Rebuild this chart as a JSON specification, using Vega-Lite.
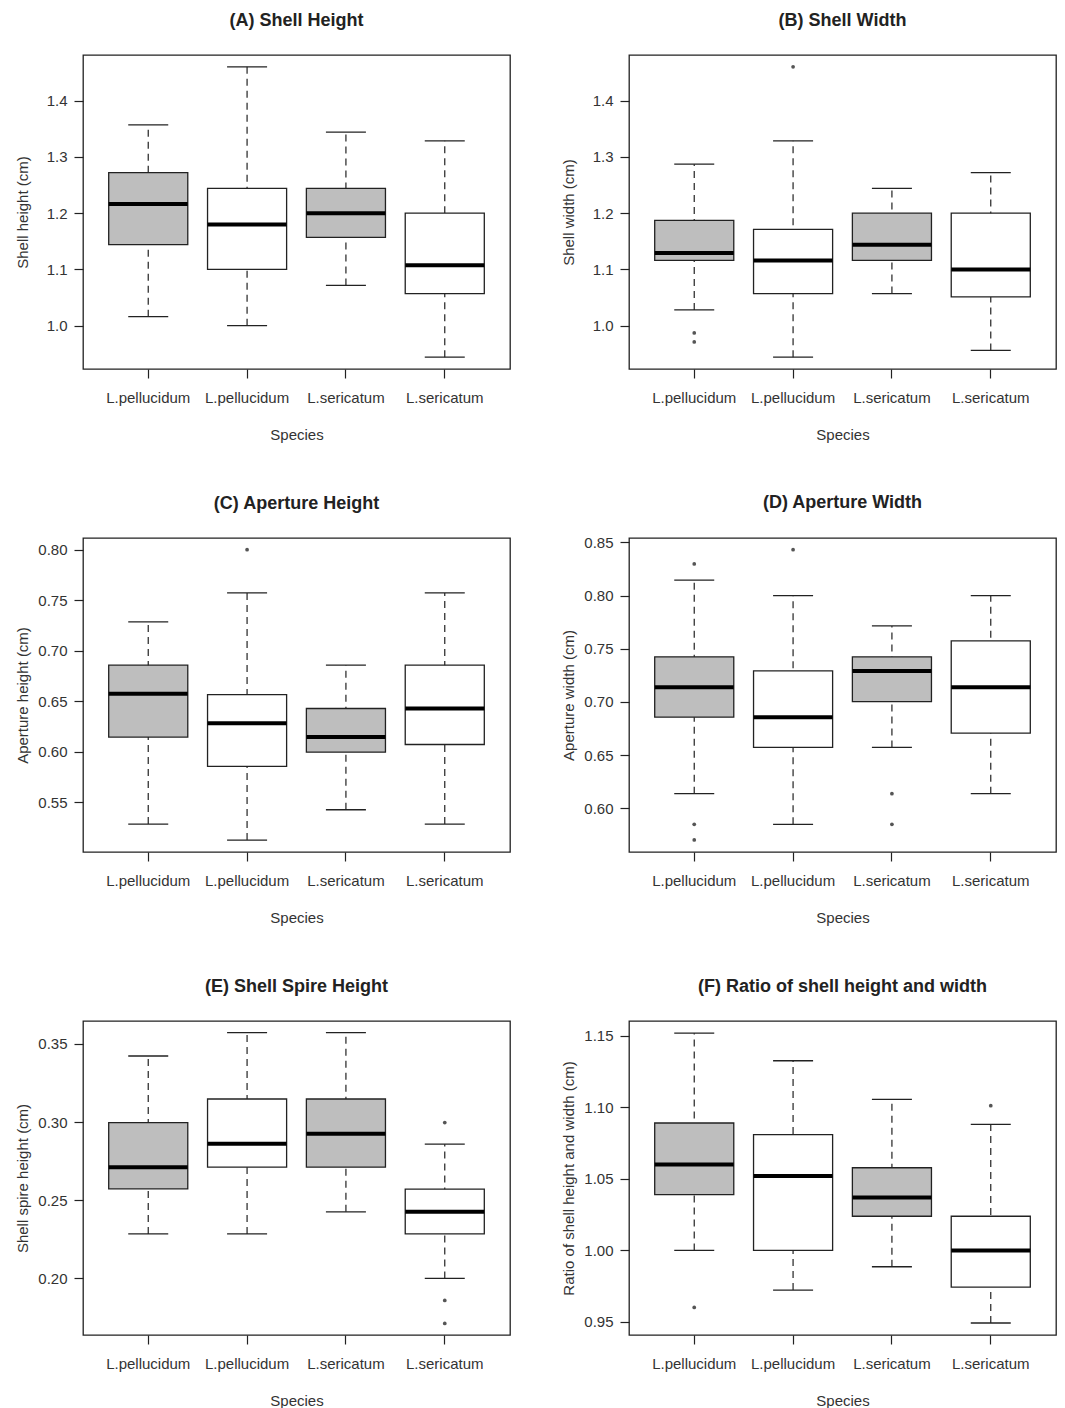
{
"$schema": "https://vega.github.io/schema/vega-lite/v6.json",
"padding": {"left": 14, "top": 11, "right": 5, "bottom": 5},
"background": "white",
"bounds": "flush",
"columns": 2,
"spacing": {"row": 169, "column": 119},
"datasets": {
"boxes": [
{"p":"A","g":1,"lo":1.016,"q1":1.144,"med":1.216,"q3":1.272,"hi":1.357},
{"p":"A","g":2,"lo":1.000,"q1":1.100,"med":1.180,"q3":1.244,"hi":1.460},
{"p":"A","g":3,"lo":1.0715,"q1":1.157,"med":1.200,"q3":1.244,"hi":1.344},
{"p":"A","g":4,"lo":0.944,"q1":1.057,"med":1.1075,"q3":1.200,"hi":1.3285},
{"p":"B","g":1,"lo":1.028,"q1":1.116,"med":1.129,"q3":1.187,"hi":1.287},
{"p":"B","g":2,"lo":0.944,"q1":1.057,"med":1.116,"q3":1.171,"hi":1.3285},
{"p":"B","g":3,"lo":1.057,"q1":1.116,"med":1.144,"q3":1.200,"hi":1.244},
{"p":"B","g":4,"lo":0.956,"q1":1.051,"med":1.100,"q3":1.200,"hi":1.272},
{"p":"C","g":1,"lo":0.5286,"q1":0.6146,"med":0.6574,"q3":0.6857,"hi":0.7285},
{"p":"C","g":2,"lo":0.5128,"q1":0.5856,"med":0.6284,"q3":0.6567,"hi":0.7572},
{"p":"C","g":3,"lo":0.5428,"q1":0.5997,"med":0.6146,"q3":0.6429,"hi":0.6857},
{"p":"C","g":4,"lo":0.5286,"q1":0.6073,"med":0.6429,"q3":0.6857,"hi":0.7572},
{"p":"D","g":1,"lo":0.6138,"q1":0.6857,"med":0.7139,"q3":0.7424,"hi":0.8146},
{"p":"D","g":2,"lo":0.585,"q1":0.6573,"med":0.6857,"q3":0.7292,"hi":0.80},
{"p":"D","g":3,"lo":0.6573,"q1":0.7004,"med":0.7292,"q3":0.7424,"hi":0.7715},
{"p":"D","g":4,"lo":0.6138,"q1":0.6707,"med":0.7139,"q3":0.7574,"hi":0.80},
{"p":"E","g":1,"lo":0.2285,"q1":0.2573,"med":0.2712,"q3":0.2997,"hi":0.3423},
{"p":"E","g":2,"lo":0.2285,"q1":0.2712,"med":0.2861,"q3":0.3148,"hi":0.3572},
{"p":"E","g":3,"lo":0.2426,"q1":0.2712,"med":0.2925,"q3":0.3148,"hi":0.3572},
{"p":"E","g":4,"lo":0.20,"q1":0.2285,"med":0.2426,"q3":0.2571,"hi":0.2859},
{"p":"F","g":1,"lo":1.0,"q1":1.039,"med":1.0601,"q3":1.0891,"hi":1.1519},
{"p":"F","g":2,"lo":0.9723,"q1":1.0,"med":1.052,"q3":1.081,"hi":1.1326},
{"p":"F","g":3,"lo":0.9886,"q1":1.0239,"med":1.0371,"q3":1.0578,"hi":1.1056},
{"p":"F","g":4,"lo":0.9493,"q1":0.9744,"med":1.0,"q3":1.0239,"hi":1.0882}
],
"outs": [
{"p":"B","g":1,"v":0.987},{"p":"B","g":1,"v":0.971},{"p":"B","g":2,"v":1.460},
{"p":"C","g":2,"v":0.80},
{"p":"D","g":1,"v":0.8297},{"p":"D","g":1,"v":0.585},{"p":"D","g":1,"v":0.5703},{"p":"D","g":2,"v":0.8431},{"p":"D","g":3,"v":0.6138},{"p":"D","g":3,"v":0.585},
{"p":"E","g":4,"v":0.2997},{"p":"E","g":4,"v":0.1859},{"p":"E","g":4,"v":0.1712},
{"p":"F","g":1,"v":0.9602},{"p":"F","g":4,"v":1.1012}
]
},
"concat": [
{
"title": {"text": "(A) Shell Height"},
"width": 427, "height": 314,
"encoding": {"x": {"field": "g", "type": "nominal", "scale": {"type": "band", "domain": [1,2,3,4], "paddingInner": 0.2, "paddingOuter": 0.26}, "axis": {"title": "Species", "labelExpr": "datum.value <= 2 ? 'L.pellucidum' : 'L.sericatum'"}}},
"layer": [
{"data": {"name": "boxes"}, "transform": [{"filter": "datum.p == 'A'"}], "mark": {"type": "rule", "strokeDash": [7,5], "strokeWidth": 1.2, "color": "#222"}, "encoding": {"y": {"field": "lo", "type": "quantitative", "title": "Shell height (cm)", "scale": {"domain": [0.923,1.481], "nice": false, "zero": false}, "axis": {"values": [1.0,1.1,1.2,1.3,1.4], "format": ".1f"}}, "y2": {"field": "hi"}}},
{"data": {"name": "boxes"}, "transform": [{"filter": "datum.p == 'A'"}], "mark": {"type": "bar", "stroke": "#222", "strokeWidth": 1.3}, "encoding": {"y": {"field": "q1", "type": "quantitative", "title": "Shell height (cm)", "scale": {"domain": [0.923,1.481], "nice": false, "zero": false}}, "y2": {"field": "q3"}, "fill": {"field": "g", "type": "nominal", "scale": {"domain": [1,2,3,4], "range": ["#bebebe","#ffffff","#bebebe","#ffffff"]}, "legend": null}}},
{"data": {"name": "boxes"}, "transform": [{"filter": "datum.p == 'A'"}], "mark": {"type": "tick", "color": "#000", "size": 79, "thickness": 4, "opacity": 1}, "encoding": {"y": {"field": "med", "type": "quantitative", "title": "Shell height (cm)", "scale": {"domain": [0.923,1.481], "nice": false, "zero": false}}}},
{"data": {"name": "boxes"}, "transform": [{"filter": "datum.p == 'A'"}], "mark": {"type": "tick", "color": "#222", "size": 40, "thickness": 1.3, "opacity": 1}, "encoding": {"y": {"field": "lo", "type": "quantitative", "title": "Shell height (cm)", "scale": {"domain": [0.923,1.481], "nice": false, "zero": false}}}},
{"data": {"name": "boxes"}, "transform": [{"filter": "datum.p == 'A'"}], "mark": {"type": "tick", "color": "#222", "size": 40, "thickness": 1.3, "opacity": 1}, "encoding": {"y": {"field": "hi", "type": "quantitative", "title": "Shell height (cm)", "scale": {"domain": [0.923,1.481], "nice": false, "zero": false}}}},
{"data": {"name": "outs"}, "transform": [{"filter": "datum.p == 'A'"}], "mark": {"type": "point", "filled": true, "size": 14, "color": "#555", "opacity": 1}, "encoding": {"y": {"field": "v", "type": "quantitative", "title": "Shell height (cm)", "scale": {"domain": [0.923,1.481], "nice": false, "zero": false}}}}
]
},
{
"title": {"text": "(B) Shell Width"},
"width": 427, "height": 314,
"encoding": {"x": {"field": "g", "type": "nominal", "scale": {"type": "band", "domain": [1,2,3,4], "paddingInner": 0.2, "paddingOuter": 0.26}, "axis": {"title": "Species", "labelExpr": "datum.value <= 2 ? 'L.pellucidum' : 'L.sericatum'"}}},
"layer": [
{"data": {"name": "boxes"}, "transform": [{"filter": "datum.p == 'B'"}], "mark": {"type": "rule", "strokeDash": [7,5], "strokeWidth": 1.2, "color": "#222"}, "encoding": {"y": {"field": "lo", "type": "quantitative", "title": "Shell width (cm)", "scale": {"domain": [0.923,1.481], "nice": false, "zero": false}, "axis": {"values": [1.0,1.1,1.2,1.3,1.4], "format": ".1f"}}, "y2": {"field": "hi"}}},
{"data": {"name": "boxes"}, "transform": [{"filter": "datum.p == 'B'"}], "mark": {"type": "bar", "stroke": "#222", "strokeWidth": 1.3}, "encoding": {"y": {"field": "q1", "type": "quantitative", "title": "Shell width (cm)", "scale": {"domain": [0.923,1.481], "nice": false, "zero": false}}, "y2": {"field": "q3"}, "fill": {"field": "g", "type": "nominal", "scale": {"domain": [1,2,3,4], "range": ["#bebebe","#ffffff","#bebebe","#ffffff"]}, "legend": null}}},
{"data": {"name": "boxes"}, "transform": [{"filter": "datum.p == 'B'"}], "mark": {"type": "tick", "color": "#000", "size": 79, "thickness": 4, "opacity": 1}, "encoding": {"y": {"field": "med", "type": "quantitative", "title": "Shell width (cm)", "scale": {"domain": [0.923,1.481], "nice": false, "zero": false}}}},
{"data": {"name": "boxes"}, "transform": [{"filter": "datum.p == 'B'"}], "mark": {"type": "tick", "color": "#222", "size": 40, "thickness": 1.3, "opacity": 1}, "encoding": {"y": {"field": "lo", "type": "quantitative", "title": "Shell width (cm)", "scale": {"domain": [0.923,1.481], "nice": false, "zero": false}}}},
{"data": {"name": "boxes"}, "transform": [{"filter": "datum.p == 'B'"}], "mark": {"type": "tick", "color": "#222", "size": 40, "thickness": 1.3, "opacity": 1}, "encoding": {"y": {"field": "hi", "type": "quantitative", "title": "Shell width (cm)", "scale": {"domain": [0.923,1.481], "nice": false, "zero": false}}}},
{"data": {"name": "outs"}, "transform": [{"filter": "datum.p == 'B'"}], "mark": {"type": "point", "filled": true, "size": 14, "color": "#555", "opacity": 1}, "encoding": {"y": {"field": "v", "type": "quantitative", "title": "Shell width (cm)", "scale": {"domain": [0.923,1.481], "nice": false, "zero": false}}}}
]
},
{
"title": {"text": "(C) Aperture Height"},
"width": 427, "height": 314,
"encoding": {"x": {"field": "g", "type": "nominal", "scale": {"type": "band", "domain": [1,2,3,4], "paddingInner": 0.2, "paddingOuter": 0.26}, "axis": {"title": "Species", "labelExpr": "datum.value <= 2 ? 'L.pellucidum' : 'L.sericatum'"}}},
"layer": [
{"data": {"name": "boxes"}, "transform": [{"filter": "datum.p == 'C'"}], "mark": {"type": "rule", "strokeDash": [7,5], "strokeWidth": 1.2, "color": "#222"}, "encoding": {"y": {"field": "lo", "type": "quantitative", "title": "Aperture height (cm)", "scale": {"domain": [0.501,0.8115], "nice": false, "zero": false}, "axis": {"values": [0.55,0.60,0.65,0.70,0.75,0.80], "format": ".2f"}}, "y2": {"field": "hi"}}},
{"data": {"name": "boxes"}, "transform": [{"filter": "datum.p == 'C'"}], "mark": {"type": "bar", "stroke": "#222", "strokeWidth": 1.3}, "encoding": {"y": {"field": "q1", "type": "quantitative", "title": "Aperture height (cm)", "scale": {"domain": [0.501,0.8115], "nice": false, "zero": false}}, "y2": {"field": "q3"}, "fill": {"field": "g", "type": "nominal", "scale": {"domain": [1,2,3,4], "range": ["#bebebe","#ffffff","#bebebe","#ffffff"]}, "legend": null}}},
{"data": {"name": "boxes"}, "transform": [{"filter": "datum.p == 'C'"}], "mark": {"type": "tick", "color": "#000", "size": 79, "thickness": 4, "opacity": 1}, "encoding": {"y": {"field": "med", "type": "quantitative", "title": "Aperture height (cm)", "scale": {"domain": [0.501,0.8115], "nice": false, "zero": false}}}},
{"data": {"name": "boxes"}, "transform": [{"filter": "datum.p == 'C'"}], "mark": {"type": "tick", "color": "#222", "size": 40, "thickness": 1.3, "opacity": 1}, "encoding": {"y": {"field": "lo", "type": "quantitative", "title": "Aperture height (cm)", "scale": {"domain": [0.501,0.8115], "nice": false, "zero": false}}}},
{"data": {"name": "boxes"}, "transform": [{"filter": "datum.p == 'C'"}], "mark": {"type": "tick", "color": "#222", "size": 40, "thickness": 1.3, "opacity": 1}, "encoding": {"y": {"field": "hi", "type": "quantitative", "title": "Aperture height (cm)", "scale": {"domain": [0.501,0.8115], "nice": false, "zero": false}}}},
{"data": {"name": "outs"}, "transform": [{"filter": "datum.p == 'C'"}], "mark": {"type": "point", "filled": true, "size": 14, "color": "#555", "opacity": 1}, "encoding": {"y": {"field": "v", "type": "quantitative", "title": "Aperture height (cm)", "scale": {"domain": [0.501,0.8115], "nice": false, "zero": false}}}}
]
},
{
"title": {"text": "(D) Aperture Width", "offset": 23},
"width": 427, "height": 314,
"encoding": {"x": {"field": "g", "type": "nominal", "scale": {"type": "band", "domain": [1,2,3,4], "paddingInner": 0.2, "paddingOuter": 0.26}, "axis": {"title": "Species", "labelExpr": "datum.value <= 2 ? 'L.pellucidum' : 'L.sericatum'"}}},
"layer": [
{"data": {"name": "boxes"}, "transform": [{"filter": "datum.p == 'D'"}], "mark": {"type": "rule", "strokeDash": [7,5], "strokeWidth": 1.2, "color": "#222"}, "encoding": {"y": {"field": "lo", "type": "quantitative", "title": "Aperture width (cm)", "scale": {"domain": [0.559,0.8541], "nice": false, "zero": false}, "axis": {"values": [0.60,0.65,0.70,0.75,0.80,0.85], "format": ".2f"}}, "y2": {"field": "hi"}}},
{"data": {"name": "boxes"}, "transform": [{"filter": "datum.p == 'D'"}], "mark": {"type": "bar", "stroke": "#222", "strokeWidth": 1.3}, "encoding": {"y": {"field": "q1", "type": "quantitative", "title": "Aperture width (cm)", "scale": {"domain": [0.559,0.8541], "nice": false, "zero": false}}, "y2": {"field": "q3"}, "fill": {"field": "g", "type": "nominal", "scale": {"domain": [1,2,3,4], "range": ["#bebebe","#ffffff","#bebebe","#ffffff"]}, "legend": null}}},
{"data": {"name": "boxes"}, "transform": [{"filter": "datum.p == 'D'"}], "mark": {"type": "tick", "color": "#000", "size": 79, "thickness": 4, "opacity": 1}, "encoding": {"y": {"field": "med", "type": "quantitative", "title": "Aperture width (cm)", "scale": {"domain": [0.559,0.8541], "nice": false, "zero": false}}}},
{"data": {"name": "boxes"}, "transform": [{"filter": "datum.p == 'D'"}], "mark": {"type": "tick", "color": "#222", "size": 40, "thickness": 1.3, "opacity": 1}, "encoding": {"y": {"field": "lo", "type": "quantitative", "title": "Aperture width (cm)", "scale": {"domain": [0.559,0.8541], "nice": false, "zero": false}}}},
{"data": {"name": "boxes"}, "transform": [{"filter": "datum.p == 'D'"}], "mark": {"type": "tick", "color": "#222", "size": 40, "thickness": 1.3, "opacity": 1}, "encoding": {"y": {"field": "hi", "type": "quantitative", "title": "Aperture width (cm)", "scale": {"domain": [0.559,0.8541], "nice": false, "zero": false}}}},
{"data": {"name": "outs"}, "transform": [{"filter": "datum.p == 'D'"}], "mark": {"type": "point", "filled": true, "size": 14, "color": "#555", "opacity": 1}, "encoding": {"y": {"field": "v", "type": "quantitative", "title": "Aperture width (cm)", "scale": {"domain": [0.559,0.8541], "nice": false, "zero": false}}}}
]
},
{
"title": {"text": "(E) Shell Spire Height"},
"width": 427, "height": 314,
"encoding": {"x": {"field": "g", "type": "nominal", "scale": {"type": "band", "domain": [1,2,3,4], "paddingInner": 0.2, "paddingOuter": 0.26}, "axis": {"title": "Species", "labelExpr": "datum.value <= 2 ? 'L.pellucidum' : 'L.sericatum'"}}},
"layer": [
{"data": {"name": "boxes"}, "transform": [{"filter": "datum.p == 'E'"}], "mark": {"type": "rule", "strokeDash": [7,5], "strokeWidth": 1.2, "color": "#222"}, "encoding": {"y": {"field": "lo", "type": "quantitative", "title": "Shell spire height (cm)", "scale": {"domain": [0.1638,0.3647], "nice": false, "zero": false}, "axis": {"values": [0.20,0.25,0.30,0.35], "format": ".2f"}}, "y2": {"field": "hi"}}},
{"data": {"name": "boxes"}, "transform": [{"filter": "datum.p == 'E'"}], "mark": {"type": "bar", "stroke": "#222", "strokeWidth": 1.3}, "encoding": {"y": {"field": "q1", "type": "quantitative", "title": "Shell spire height (cm)", "scale": {"domain": [0.1638,0.3647], "nice": false, "zero": false}}, "y2": {"field": "q3"}, "fill": {"field": "g", "type": "nominal", "scale": {"domain": [1,2,3,4], "range": ["#bebebe","#ffffff","#bebebe","#ffffff"]}, "legend": null}}},
{"data": {"name": "boxes"}, "transform": [{"filter": "datum.p == 'E'"}], "mark": {"type": "tick", "color": "#000", "size": 79, "thickness": 4, "opacity": 1}, "encoding": {"y": {"field": "med", "type": "quantitative", "title": "Shell spire height (cm)", "scale": {"domain": [0.1638,0.3647], "nice": false, "zero": false}}}},
{"data": {"name": "boxes"}, "transform": [{"filter": "datum.p == 'E'"}], "mark": {"type": "tick", "color": "#222", "size": 40, "thickness": 1.3, "opacity": 1}, "encoding": {"y": {"field": "lo", "type": "quantitative", "title": "Shell spire height (cm)", "scale": {"domain": [0.1638,0.3647], "nice": false, "zero": false}}}},
{"data": {"name": "boxes"}, "transform": [{"filter": "datum.p == 'E'"}], "mark": {"type": "tick", "color": "#222", "size": 40, "thickness": 1.3, "opacity": 1}, "encoding": {"y": {"field": "hi", "type": "quantitative", "title": "Shell spire height (cm)", "scale": {"domain": [0.1638,0.3647], "nice": false, "zero": false}}}},
{"data": {"name": "outs"}, "transform": [{"filter": "datum.p == 'E'"}], "mark": {"type": "point", "filled": true, "size": 14, "color": "#555", "opacity": 1}, "encoding": {"y": {"field": "v", "type": "quantitative", "title": "Shell spire height (cm)", "scale": {"domain": [0.1638,0.3647], "nice": false, "zero": false}}}}
]
},
{
"title": {"text": "(F) Ratio of shell height and width"},
"width": 427, "height": 314,
"encoding": {"x": {"field": "g", "type": "nominal", "scale": {"type": "band", "domain": [1,2,3,4], "paddingInner": 0.2, "paddingOuter": 0.26}, "axis": {"title": "Species", "labelExpr": "datum.value <= 2 ? 'L.pellucidum' : 'L.sericatum'"}}},
"layer": [
{"data": {"name": "boxes"}, "transform": [{"filter": "datum.p == 'F'"}], "mark": {"type": "rule", "strokeDash": [7,5], "strokeWidth": 1.2, "color": "#222"}, "encoding": {"y": {"field": "lo", "type": "quantitative", "title": "Ratio of shell height and width (cm)", "scale": {"domain": [0.9409,1.1604], "nice": false, "zero": false}, "axis": {"values": [0.95,1.00,1.05,1.10,1.15], "format": ".2f"}}, "y2": {"field": "hi"}}},
{"data": {"name": "boxes"}, "transform": [{"filter": "datum.p == 'F'"}], "mark": {"type": "bar", "stroke": "#222", "strokeWidth": 1.3}, "encoding": {"y": {"field": "q1", "type": "quantitative", "title": "Ratio of shell height and width (cm)", "scale": {"domain": [0.9409,1.1604], "nice": false, "zero": false}}, "y2": {"field": "q3"}, "fill": {"field": "g", "type": "nominal", "scale": {"domain": [1,2,3,4], "range": ["#bebebe","#ffffff","#bebebe","#ffffff"]}, "legend": null}}},
{"data": {"name": "boxes"}, "transform": [{"filter": "datum.p == 'F'"}], "mark": {"type": "tick", "color": "#000", "size": 79, "thickness": 4, "opacity": 1}, "encoding": {"y": {"field": "med", "type": "quantitative", "title": "Ratio of shell height and width (cm)", "scale": {"domain": [0.9409,1.1604], "nice": false, "zero": false}}}},
{"data": {"name": "boxes"}, "transform": [{"filter": "datum.p == 'F'"}], "mark": {"type": "tick", "color": "#222", "size": 40, "thickness": 1.3, "opacity": 1}, "encoding": {"y": {"field": "lo", "type": "quantitative", "title": "Ratio of shell height and width (cm)", "scale": {"domain": [0.9409,1.1604], "nice": false, "zero": false}}}},
{"data": {"name": "boxes"}, "transform": [{"filter": "datum.p == 'F'"}], "mark": {"type": "tick", "color": "#222", "size": 40, "thickness": 1.3, "opacity": 1}, "encoding": {"y": {"field": "hi", "type": "quantitative", "title": "Ratio of shell height and width (cm)", "scale": {"domain": [0.9409,1.1604], "nice": false, "zero": false}}}},
{"data": {"name": "outs"}, "transform": [{"filter": "datum.p == 'F'"}], "mark": {"type": "point", "filled": true, "size": 14, "color": "#555", "opacity": 1}, "encoding": {"y": {"field": "v", "type": "quantitative", "title": "Ratio of shell height and width (cm)", "scale": {"domain": [0.9409,1.1604], "nice": false, "zero": false}}}}
]
}
],
"config": {
"font": "Liberation Sans",
"view": {"stroke": "#222", "strokeWidth": 1.3},
"title": {"font": "Liberation Sans", "fontSize": 18, "fontWeight": "bold", "color": "#222", "offset": 25, "anchor": "middle"},
"axis": {"domain": false, "grid": false, "ticks": true, "tickColor": "#222", "tickSize": 9, "tickWidth": 1.2, "labelFont": "Liberation Sans", "labelFontSize": 15, "labelColor": "#333", "titleFont": "Liberation Sans", "titleFontSize": 15, "titleFontWeight": "normal", "titleColor": "#333"},
"axisY": {"labelPadding": 7, "titleX": -61, "titleY": 157, "titleBaseline": "middle", "titleAngle": 270, "titleAlign": "center"},
"axisX": {"labelPadding": 12, "labelAngle": 0, "titleX": 213.5, "titleY": 65, "titleBaseline": "middle", "titleAlign": "center"}
}
}
